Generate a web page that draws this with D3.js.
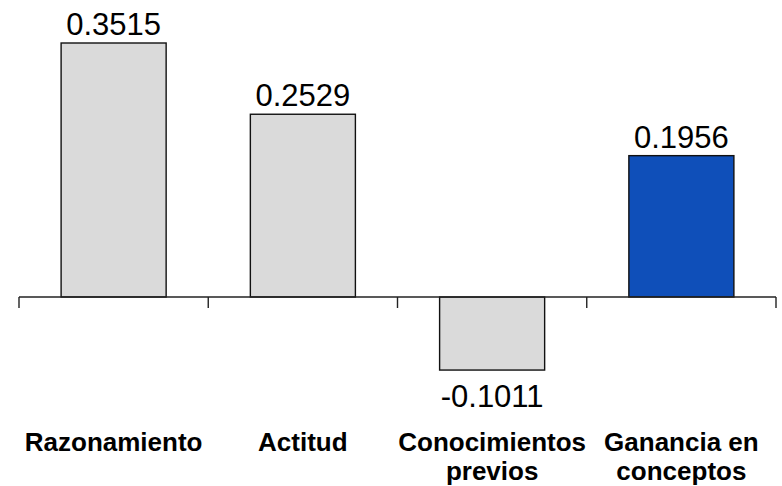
<!DOCTYPE html>
<html>
<head>
<meta charset="utf-8">
<script src="https://cdn.jsdelivr.net/npm/d3@7/dist/d3.min.js"></script>
<style>
  html, body { margin: 0; padding: 0; background: #fff; }
  svg { display: block; }
  text { font-family: "Liberation Sans", Arial, sans-serif; fill: #000; }
</style>
</head>
<body>
<svg id="chart" width="782" height="486"></svg>
<script>
// Standardised coefficients per predictor
const categories = ["Razonamiento", "Actitud", "Conocimientos previos", "Ganancia en conceptos"];
const labelLines = [["Razonamiento"], ["Actitud"], ["Conocimientos", "previos"], ["Ganancia en", "conceptos"]];
const values = [0.3515, 0.2529, -0.1011, 0.1956];
const highlighted = ["Ganancia en conceptos"];

const svg = d3.select("#chart");

const x = d3.scaleBand()
  .domain(categories)
  .range([19, 776])
  .paddingInner(0.445)
  .paddingOuter(0.2225);

// zero line at y = 297, 0.3515 reaches y = 43
const y = d3.scaleLinear()
  .domain([0, 0.3515])
  .range([297, 43]);

const data = categories.map((c, i) => ({ cat: c, value: values[i], lines: labelLines[i] }));
const fmt = v => d3.format(".4f")(v).replace("\u2212", "-");

// bars
svg.append("g")
  .selectAll("rect")
  .data(data)
  .join("rect")
  .attr("x", d => x(d.cat))
  .attr("width", x.bandwidth())
  .attr("y", d => y(Math.max(0, d.value)))
  .attr("height", d => Math.abs(y(d.value) - y(0)))
  .attr("fill", d => highlighted.includes(d.cat) ? "#0f4fb9" : "#dadada")
  .attr("stroke", "#111")
  .attr("stroke-width", 1.4);

// horizontal axis on the zero line, ticks at band boundaries
const step = x.step();
const boundaries = d3.range(categories.length + 1).map(i => x.range()[0] + i * step);
const axisG = svg.append("g");
axisG.append("line")
  .attr("x1", boundaries[0]).attr("x2", boundaries[boundaries.length - 1])
  .attr("y1", y(0)).attr("y2", y(0))
  .attr("stroke", "#222").attr("stroke-width", 1.6);
axisG.selectAll("line.tick")
  .data(boundaries)
  .join("line")
  .attr("class", "tick")
  .attr("x1", d => d).attr("x2", d => d)
  .attr("y1", y(0)).attr("y2", y(0) + 11)
  .attr("stroke", "#222").attr("stroke-width", 1.4);

// value labels
svg.append("g")
  .selectAll("text")
  .data(data)
  .join("text")
  .attr("x", d => x(d.cat) + x.bandwidth() / 2)
  .attr("y", d => d.value >= 0 ? y(d.value) - 8 : y(d.value) + 37)
  .attr("text-anchor", "middle")
  .style("font-size", "31px")
  .text(d => fmt(d.value));

// category labels, two lines where the name is long
const catG = svg.append("g")
  .selectAll("text")
  .data(data)
  .join("text")
  .attr("x", d => x(d.cat) + x.bandwidth() / 2)
  .attr("y", 451)
  .attr("text-anchor", "middle")
  .style("font-size", "26px")
  .style("font-weight", "bold");
catG.selectAll("tspan")
  .data(d => d.lines.map(t => ({ t, cx: x(d.cat) + x.bandwidth() / 2 })))
  .join("tspan")
  .attr("x", d => d.cx)
  .attr("dy", (d, i) => i === 0 ? 0 : 29)
  .text(d => d.t);
</script>
</body>
</html>
